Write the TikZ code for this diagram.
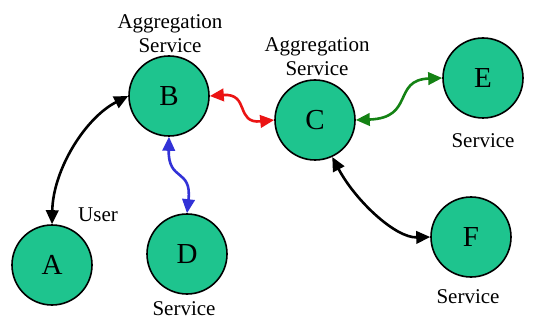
\documentclass[tikz,border=0pt]{standalone}
\usepackage{fontspec}
\setmainfont{Liberation Serif}
\usetikzlibrary{arrows.meta}
\definecolor{nodegreen}{RGB}{30,196,142}
\definecolor{linkred}{RGB}{235,20,20}
\definecolor{linkblue}{RGB}{50,50,215}
\definecolor{linkgreen}{RGB}{20,130,20}
\tikzset{
  peer/.style={circle, draw=black, line width=1.6pt, fill=nodegreen,
    minimum size=80pt, inner sep=0pt, font=\fontsize{29}{30}\selectfont},
  role/.style={font=\fontsize{21}{22}\selectfont, inner sep=0pt, align=center},
  link/.style={line width=2.6pt, {Triangle[length=14pt,width=12.5pt]}-{Triangle[length=14pt,width=12.5pt]}},
}
\begin{document}
\begin{tikzpicture}[x=1pt, y=-1pt]
\useasboundingbox (0,0) rectangle (534,320);
\clip (0,0) rectangle (534,320);

% service nodes
\node[peer] (A) at (52,265) {A};
\node[peer] (B) at (169,96) {B};
\node[peer] (C) at (315,120) {C};
\node[peer] (D) at (187,254) {D};
\node[peer] (E) at (483,78) {E};
\node[peer] (F) at (471,237) {F};

% role labels
\node[role] (topcut) at (62,-9) {Aggregation};
\node[role] (labB) at (170,34) {Aggregation\\[2pt]Service};
\node[role] (labC) at (317,57) {Aggregation\\[2pt]Service};
\node[role] (labE) at (483,141) {Service};
\node[role] (labA) at (98,215) {User};
\node[role] (labD) at (184,309) {Service};
\node[role] (labF) at (468,297) {Service};

% connections
\draw[link] (A.north) .. controls (53,170) and (85,118) .. (B.west);
\draw[link, linkblue] (B.south) .. controls (168,182) and (192,168) .. (D.north);
\draw[link, linkred] (B.east) .. controls (250,93) and (235,124) .. (C.west);
\draw[link, linkgreen] (C.east) .. controls (415,118) and (392,80) .. (E.west);
\draw[link] (C.-65) .. controls (355,200) and (395,238) .. (F.west);
\end{tikzpicture}
\end{document}
